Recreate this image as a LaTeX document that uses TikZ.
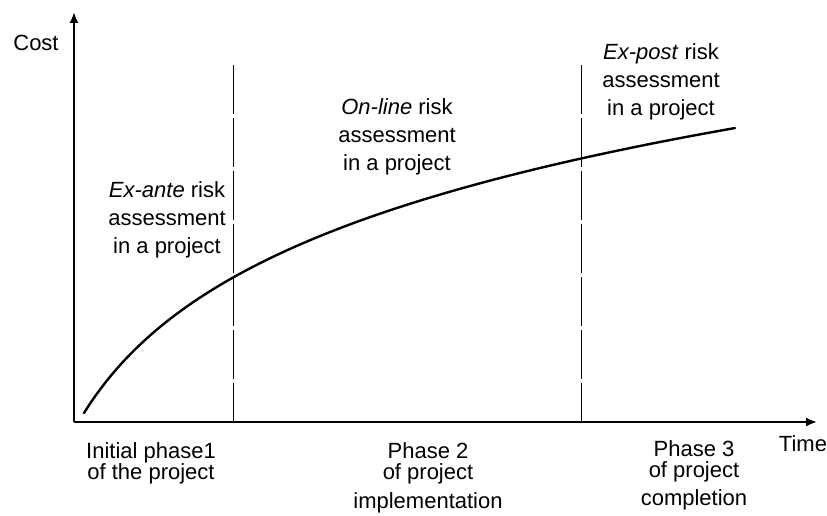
\documentclass[tikz,border=0pt]{standalone}
\usepackage{fontspec}
\setmainfont{Liberation Sans}
\usetikzlibrary{arrows.meta}

\begin{document}
\begin{tikzpicture}[x=1pt, y=-1pt,
                    axis/.style={line width=2pt, -{Latex[length=11pt,width=9pt]}},
                    phase line/.style={line width=0.9pt, dash pattern=on 49pt off 4pt},
                    cost curve/.style={line width=2.4pt, line cap=round},
                    label text/.style={inner sep=0pt, anchor=north, align=center,
                                       font=\fontsize{22}{28}\selectfont},
                    phase text/.style={inner sep=0pt, anchor=north, align=center,
                                       font=\fontsize{22}{21.5}\selectfont}]
  \useasboundingbox (0,0) rectangle (827,516);

  % axes
  \coordinate (origin) at (74,422);
  \coordinate (ytip) at (74,12);
  \coordinate (xtip) at (817,422);
  \draw[axis] (origin) -- (ytip);
  \draw[axis] (origin) -- (xtip);

  \node[label text] (cost) at (36,35) {Cost};
  \node[label text] (time) at (803,435) {Time};

  % phase borders
  \coordinate (border1 top) at (233,65);
  \coordinate (border1 bottom) at (233,422);
  \coordinate (border2 top) at (581,65);
  \coordinate (border2 bottom) at (581,422);
  \draw[phase line] (border1 top) -- (border1 bottom);
  \draw[phase line] (border2 top) -- (border2 bottom);

  % cost of risk assessment
  \draw[cost curve] plot[domain=84:735, samples=120] (\x, {413-128.8*ln(1+(\x-84)/80)});

  \node[label text] (exante) at (167,181) {\textit{Ex-ante} risk\\assessment\\in a project};
  \node[label text] (online) at (397,98) {\textit{On-line} risk\\assessment\\in a project};
  \node[label text] (expost) at (661,43) {\textit{Ex-post} risk\\assessment\\in a project};

  \node[phase text] (phase1) at (151,442) {Initial phase1\\of the project};
  \node[phase text] (phase2) at (428,442) {Phase 2\\of project\\[7pt]implementation};
  \node[phase text] (phase3) at (694,440) {Phase 3\\of project\\[6pt]completion};

\end{tikzpicture}
\end{document}
